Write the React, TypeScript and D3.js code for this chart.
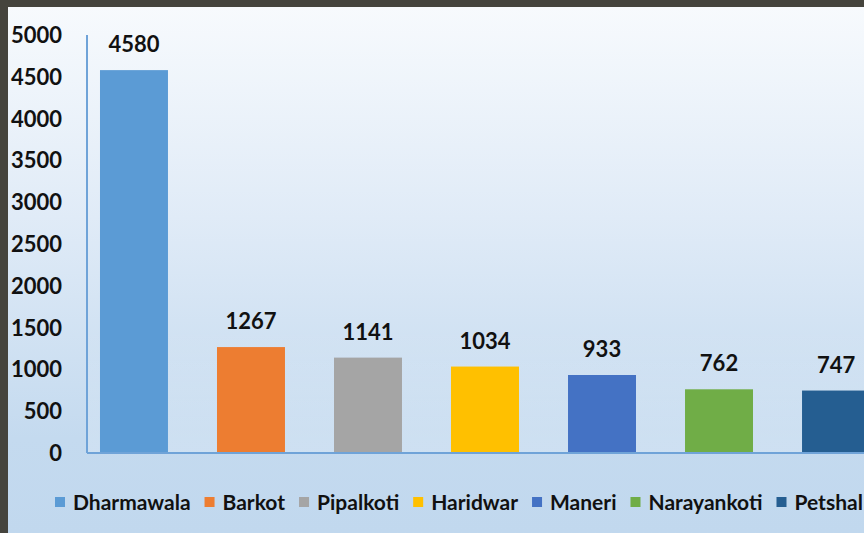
import React, { useMemo } from "react";
import * as d3 from "d3";

const categories = ["Dharmawala", "Barkot", "Pipalkoti", "Haridwar", "Maneri", "Narayankoti", "Petshal"];
const values = [4580, 1267, 1141, 1034, 933, 762, 747];
const colors = ["#5B9BD5", "#ED7D31", "#A5A5A5", "#FFC000", "#4472C4", "#70AD47", "#255E91"];
const yTicks = [0, 500, 1000, 1500, 2000, 2500, 3000, 3500, 4000, 4500, 5000];

const W = 864;
const H = 533;
const FONT = "Lato, 'Liberation Sans', sans-serif";

export default function App() {
  const axisX = 87;
  const axisTop = 35;
  const axisBottom = 453;

  const y = d3.scaleLinear().domain([0, 5000]).range([axisBottom, axisTop]);
  const x = d3
    .scaleBand<string>()
    .domain(categories)
    .range([axisX, 883])
    .paddingInner(0.419)
    .paddingOuter(0.111);

  const legend = useMemo(() => {
    const canvas = document.createElement("canvas");
    const ctx = canvas.getContext("2d")!;
    ctx.font = `bold 21px Lato, 'Liberation Sans', sans-serif`;
    let cx = 55;
    return categories.map((c, i) => {
      const w = ctx.measureText(c).width;
      const item = { c, i, sx: cx, tx: cx + 18 };
      cx += 18 + w + 14;
      return item;
    });
  }, []);

  return (
    <svg width={W} height={H} style={{ position: "absolute", left: 0, top: 0 }}>
      <defs>
        <linearGradient id="bg" x1="0" y1="0" x2="0" y2="1">
          <stop offset="0%" stopColor="#f7fafd" />
          <stop offset="40%" stopColor="#e0ebf7" />
          <stop offset="82%" stopColor="#c4daef" />
          <stop offset="100%" stopColor="#c1d8ee" />
        </linearGradient>
        <linearGradient id="plot" x1="0" y1="0" x2="0" y2="1">
          <stop offset="0%" stopColor="#ffffff" stopOpacity="0" />
          <stop offset="70%" stopColor="#ffffff" stopOpacity="0" />
          <stop offset="100%" stopColor="#ffffff" stopOpacity="0.18" />
        </linearGradient>
      </defs>
      <rect x={0} y={0} width={W} height={H} fill="#45443d" />
      <rect x={8} y={7} width={W - 8} height={H - 7} fill="url(#bg)" />
      <rect x={axisX} y={axisTop} width={W - axisX} height={axisBottom - axisTop} fill="url(#plot)" />

      {yTicks.map((t) => (
        <text
          key={t}
          x={62}
          y={y(t)}
          dy="0.36em"
          textAnchor="end"
          fontFamily={FONT}
          fontWeight="bold"
          fontSize={22}
          fill="#111"
        >
          {t}
        </text>
      ))}

      {categories.map((c, i) => (
        <g key={c}>
          <rect
            x={x(c)!}
            y={y(values[i])}
            width={x.bandwidth()}
            height={y(0) - y(values[i])}
            fill={colors[i]}
          />
          <text
            x={x(c)! + x.bandwidth() / 2}
            y={y(values[i]) - 18}
            textAnchor="middle"
            fontFamily={FONT}
            fontWeight="bold"
            fontSize={22}
            fill="#111"
          >
            {values[i]}
          </text>
        </g>
      ))}

      <line x1={axisX} x2={axisX} y1={axisTop} y2={axisBottom} stroke="#6fa3d8" strokeWidth={2} />
      <line x1={axisX} x2={W} y1={axisBottom} y2={axisBottom} stroke="#6fa3d8" strokeWidth={2} />

      {legend.map((l) => (
        <g key={l.c}>
          <rect x={l.sx} y={497} width={10} height={10} fill={colors[l.i]} />
          <text
            x={l.tx}
            y={502}
            dy="0.36em"
            fontFamily={FONT}
            fontWeight="bold"
            fontSize={21}
            fill="#111"
          >
            {l.c}
          </text>
        </g>
      ))}
    </svg>
  );
}
